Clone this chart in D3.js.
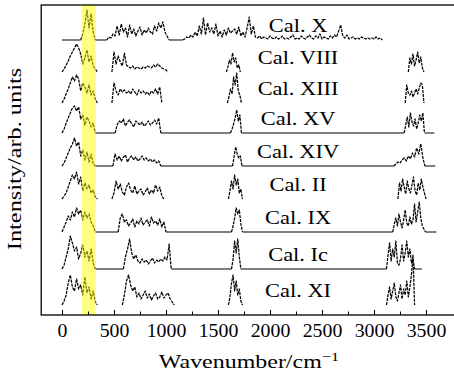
<!DOCTYPE html>
<html><head><meta charset="utf-8">
<script src="https://cdn.jsdelivr.net/npm/d3@7"></script>
<style>body{margin:0;background:#fff}svg{display:block}text{font-family:"Liberation Serif","Times New Roman",serif;fill:#000}</style>
</head><body><svg id="c" width="454" height="376"></svg>
<script>
// ---- data ----
const labels = ["Cal. X","Cal. VIII","Cal. XIII","Cal. XV","Cal. XIV","Cal. II","Cal. IX","Cal. Ic","Cal. XI"];
const baselines = [275,243,212,182,149,116,83,46,10];
const xTicks = [0,500,1000,1500,2000,2500,3000,3500];
const xMinorTicks = [250,750,1250,1750,2250,2750,3250];
const band = [190,325];

// segments: [start wavenumber, step, intensities above baseline]
const segX = [
  [180,20,[0,6,16,30,12,26,8,0]],
  [430,20,[0,3,2,6,4,14,5,16,8,12,3,15,6,11,4,9,13,5,10,7,12,8,6,14,9,17,12,18,8,4,0]],
  [1160,20,[0,1,3,2,5,3,8,4,14,6, 22,5,17,8,12,6,16,4,9,3, 10,5,12,7,9,11,6,13,4,8,
            3,12,23,6,14,3,2,4,1,3, 2,1,4,2,1,3,1,2,4,1, 2,1,3,5,1,2,1,4,2,1,
            3,5,2,1,4,2,6,1,3,2, 1,4,2,5,3,9,15,4,2,5, 1,2,3,1,2,1,3,2,1,2, 1,2,1,3,1,2,0]]
];
const flatX = [[0,180],[320,430],[1030,1160]];

const segVIII = [
  [0,20,[0,3,7,11,16,20,24,28,24,18,8,14,22,10,16,6,3,0]],
  [480,20,[0,20,8,16,10,6,19,7,5,4,6,3,5,4,3,5,4,6,5,4,7,5,8,6,4,3,2,0]],
  [1580,15,[0,5,12,8,19,10,14,4,7,0]],
  [3330,15,[0,14,8,18,6,12,20,9,15,4,0]]
];
const flatVIII = [];

const segXIII = [
  [0,20,[0,4,9,14,20,26,22,28,24,12,20,16,10,18,8,12,4,0]],
  [480,20,[0,20,12,8,14,11,13,10,12,9,14,11,8,13,10,12,9,11,8,12,10,14,9,16,0]],
  [1590,15,[0,6,14,9,26,18,30,12,8,0]],
  [3300,15,[0,18,10,8,12,6,10,14,9,15,20,18,0]]
];
const flatXIII = [];

const segXV = [
  [0,20,[0,4,10,15,20,25,27,22,26,14,18,8,16,12,6,10,0]],
  [510,20,[0,8,12,10,14,7,11,13,9,6,12,10,8,11,7,9,12,8,10,13,9,15,0]],
  [1620,15,[0,4,9,15,23,12,18,0]],
  [3290,15,[0,8,16,6,20,11,7,14,4,10,18,12,20,0]]
];
const flatXV = [[320,510],[950,1620],[1725,3290],[3485,3580]];

const segXIV = [
  [0,20,[0,3,8,13,18,22,28,20,24,10,16,6,14,4,12,2,0]],
  [490,20,[0,12,6,10,5,9,11,4,8,10,6,9,5,7,10,6,8,5,7,4,6,3,5,0]],
  [1640,15,[0,10,19,12,8,10,0]],
  [3190,20,[0,2,4,3,6,8,5,10,7,13,9,18,12,22,8,0]]
];
const flatXIV = [[320,490],[950,1640],[1730,3190],[3490,3590]];

const segII = [
  [0,20,[0,3,6,12,18,24,20,27,15,22,8,16,10,14,6,9,2,0]],
  [480,20,[0,6,18,10,15,7,4,12,16,9,6,13,5,8,10,4,7,11,5,9,6,14,8,12,3,0]],
  [1600,15,[0,8,18,10,24,14,20,6,10,0]],
  [3230,15,[0,16,8,20,12,5,18,10,6,14,22,8,4,16,9,20,12,6,0]]
];
const flatII = [];

const segIX = [
  [0,20,[0,5,10,16,12,20,15,24,18,22,12,20,14,18,10,6,0]],
  [540,20,[0,14,18,10,12,6,9,13,5,11,8,14,7,10,12,6,15,9,11,7,13,5,10,0]],
  [1630,15,[0,6,14,24,18,22,8,0]],
  [3180,15,[0,8,14,6,18,10,4,12,22,9,6,15,8,12,28,10,20,30,14,6,3,0]]
];
const flatIX = [[320,540],[1000,1630],[1735,3180],[3495,3600]];

const segIc = [
  [0,20,[0,4,12,20,33,26,18,22,10,16,24,12,18,8,20,6,0]],
  [590,20,[0,12,20,30,16,10,14,8,6,10,7,9,5,8,11,6,9,7,10,8,12,9,25,0]],
  [1630,15,[0,10,28,16,30,12,0]],
  [3120,15,[0,14,26,8,20,12,28,6,4,10,24,8,16,28,12,20,6,10,0]]
];
const flatIc = [[320,590],[1050,1630],[1720,3120],[3390,3460]];

const segXI = [
  [0,20,[0,4,10,22,30,18,14,26,16,20,10,28,12,18,6,14,3,0]],
  [580,20,[0,10,24,30,20,14,18,8,12,6,10,14,7,11,5,9,12,6,8,13,7,10,12,6,3,0]],
  [1600,15,[0,8,22,30,14,24,10,16,4,0]],
  [3120,15,[0,10,18,6,14,22,8,4,12,20,6,16,10,24,8,18,30,50,0]]
];
const flatXI = [];

const allSegs = [segX,segVIII,segXIII,segXV,segXIV,segII,segIX,segIc,segXI];
const allFlats = [flatX,flatVIII,flatXIII,flatXV,flatXIV,flatII,flatIX,flatIc,flatXI];

// ---- drawing ----
const svg = d3.select("#c");
const L = 41.2, T = 5, B = 315;
const x = d3.scaleLinear().domain([-200,3800]).range([L, L + 4000*0.104]);
const y = d3.scaleLinear().domain([0,310]).range([B, T]);
const line = d3.line().x(d => x(d[0])).y(d => y(d[1]));

// text stretched horizontally to mimic Computer Modern widths
function stretchedText(cx, cy, k, size, str, rot) {
  const gg = svg.append("g").attr("transform", `translate(${cx},${cy})` + (rot ? ` rotate(${rot})` : "") + ` scale(${k},1)`);
  return gg.append("text").attr("x",0).attr("y",0).attr("text-anchor","middle")
    .style("font-size", size + "px").text(str);
}

const g = svg.append("g");
allSegs.forEach((segs, i) => {
  const base = baselines[i];
  segs.forEach(([s, st, h]) => {
    const pts = h.map((v, j) => [s + j*st, base + v]);
    g.append("path").attr("d", line(pts)).attr("fill","none")
      .attr("stroke","#000").attr("stroke-width",1.25)
      .attr("stroke-dasharray","3,1").attr("stroke-linejoin","round");
  });
  allFlats[i].forEach(([a, b]) => {
    g.append("path").attr("d", line([[a, base],[b, base]]))
      .attr("fill","none").attr("stroke","#000").attr("stroke-width",1);
  });
  stretchedText(x(2270), y(base + 8), 1.18, 19, labels[i]);
});

// highlight band (over the traces, translucent)
svg.append("rect").attr("x", x(band[0])).attr("y", T)
  .attr("width", x(band[1]) - x(band[0])).attr("height", B - T)
  .attr("fill","#ffff00").attr("opacity",0.5);

// frame
svg.append("rect").attr("x", L).attr("y", T).attr("width", 440).attr("height", B - T)
  .attr("fill","none").attr("stroke","#000").attr("stroke-width",1.3);

// axis
const ax = svg.append("g").attr("transform",`translate(0,${B})`)
  .call(d3.axisBottom(x).tickValues(xTicks).tickSize(-5).tickSizeOuter(0).tickFormat(d3.format("d")).tickPadding(9.5));
ax.select(".domain").remove();
ax.selectAll("line").attr("stroke","#000").attr("stroke-width",1.1);
ax.selectAll("text").style("font-size","18px").style("font-family","'Liberation Serif',serif")
  .attr("transform","scale(1.1,1)");
const axm = svg.append("g").attr("transform",`translate(0,${B})`)
  .call(d3.axisBottom(x).tickValues(xMinorTicks).tickSize(-3.5).tickSizeOuter(0).tickFormat(""));
axm.select(".domain").remove();
axm.selectAll("line").attr("stroke","#000").attr("stroke-width",1.1);

// titles
const xt = stretchedText(249, 368, 1.26, 19, "");
xt.append("tspan").text("Wavenumber/cm");
xt.append("tspan").attr("dy",-7).style("font-size","13px").text("\u22121");
stretchedText(21, 159, 1.0, 19, "", -90)
  .attr("transform","scale(1.28,1)").text("Intensity/arb. units");
</script></body></html>
